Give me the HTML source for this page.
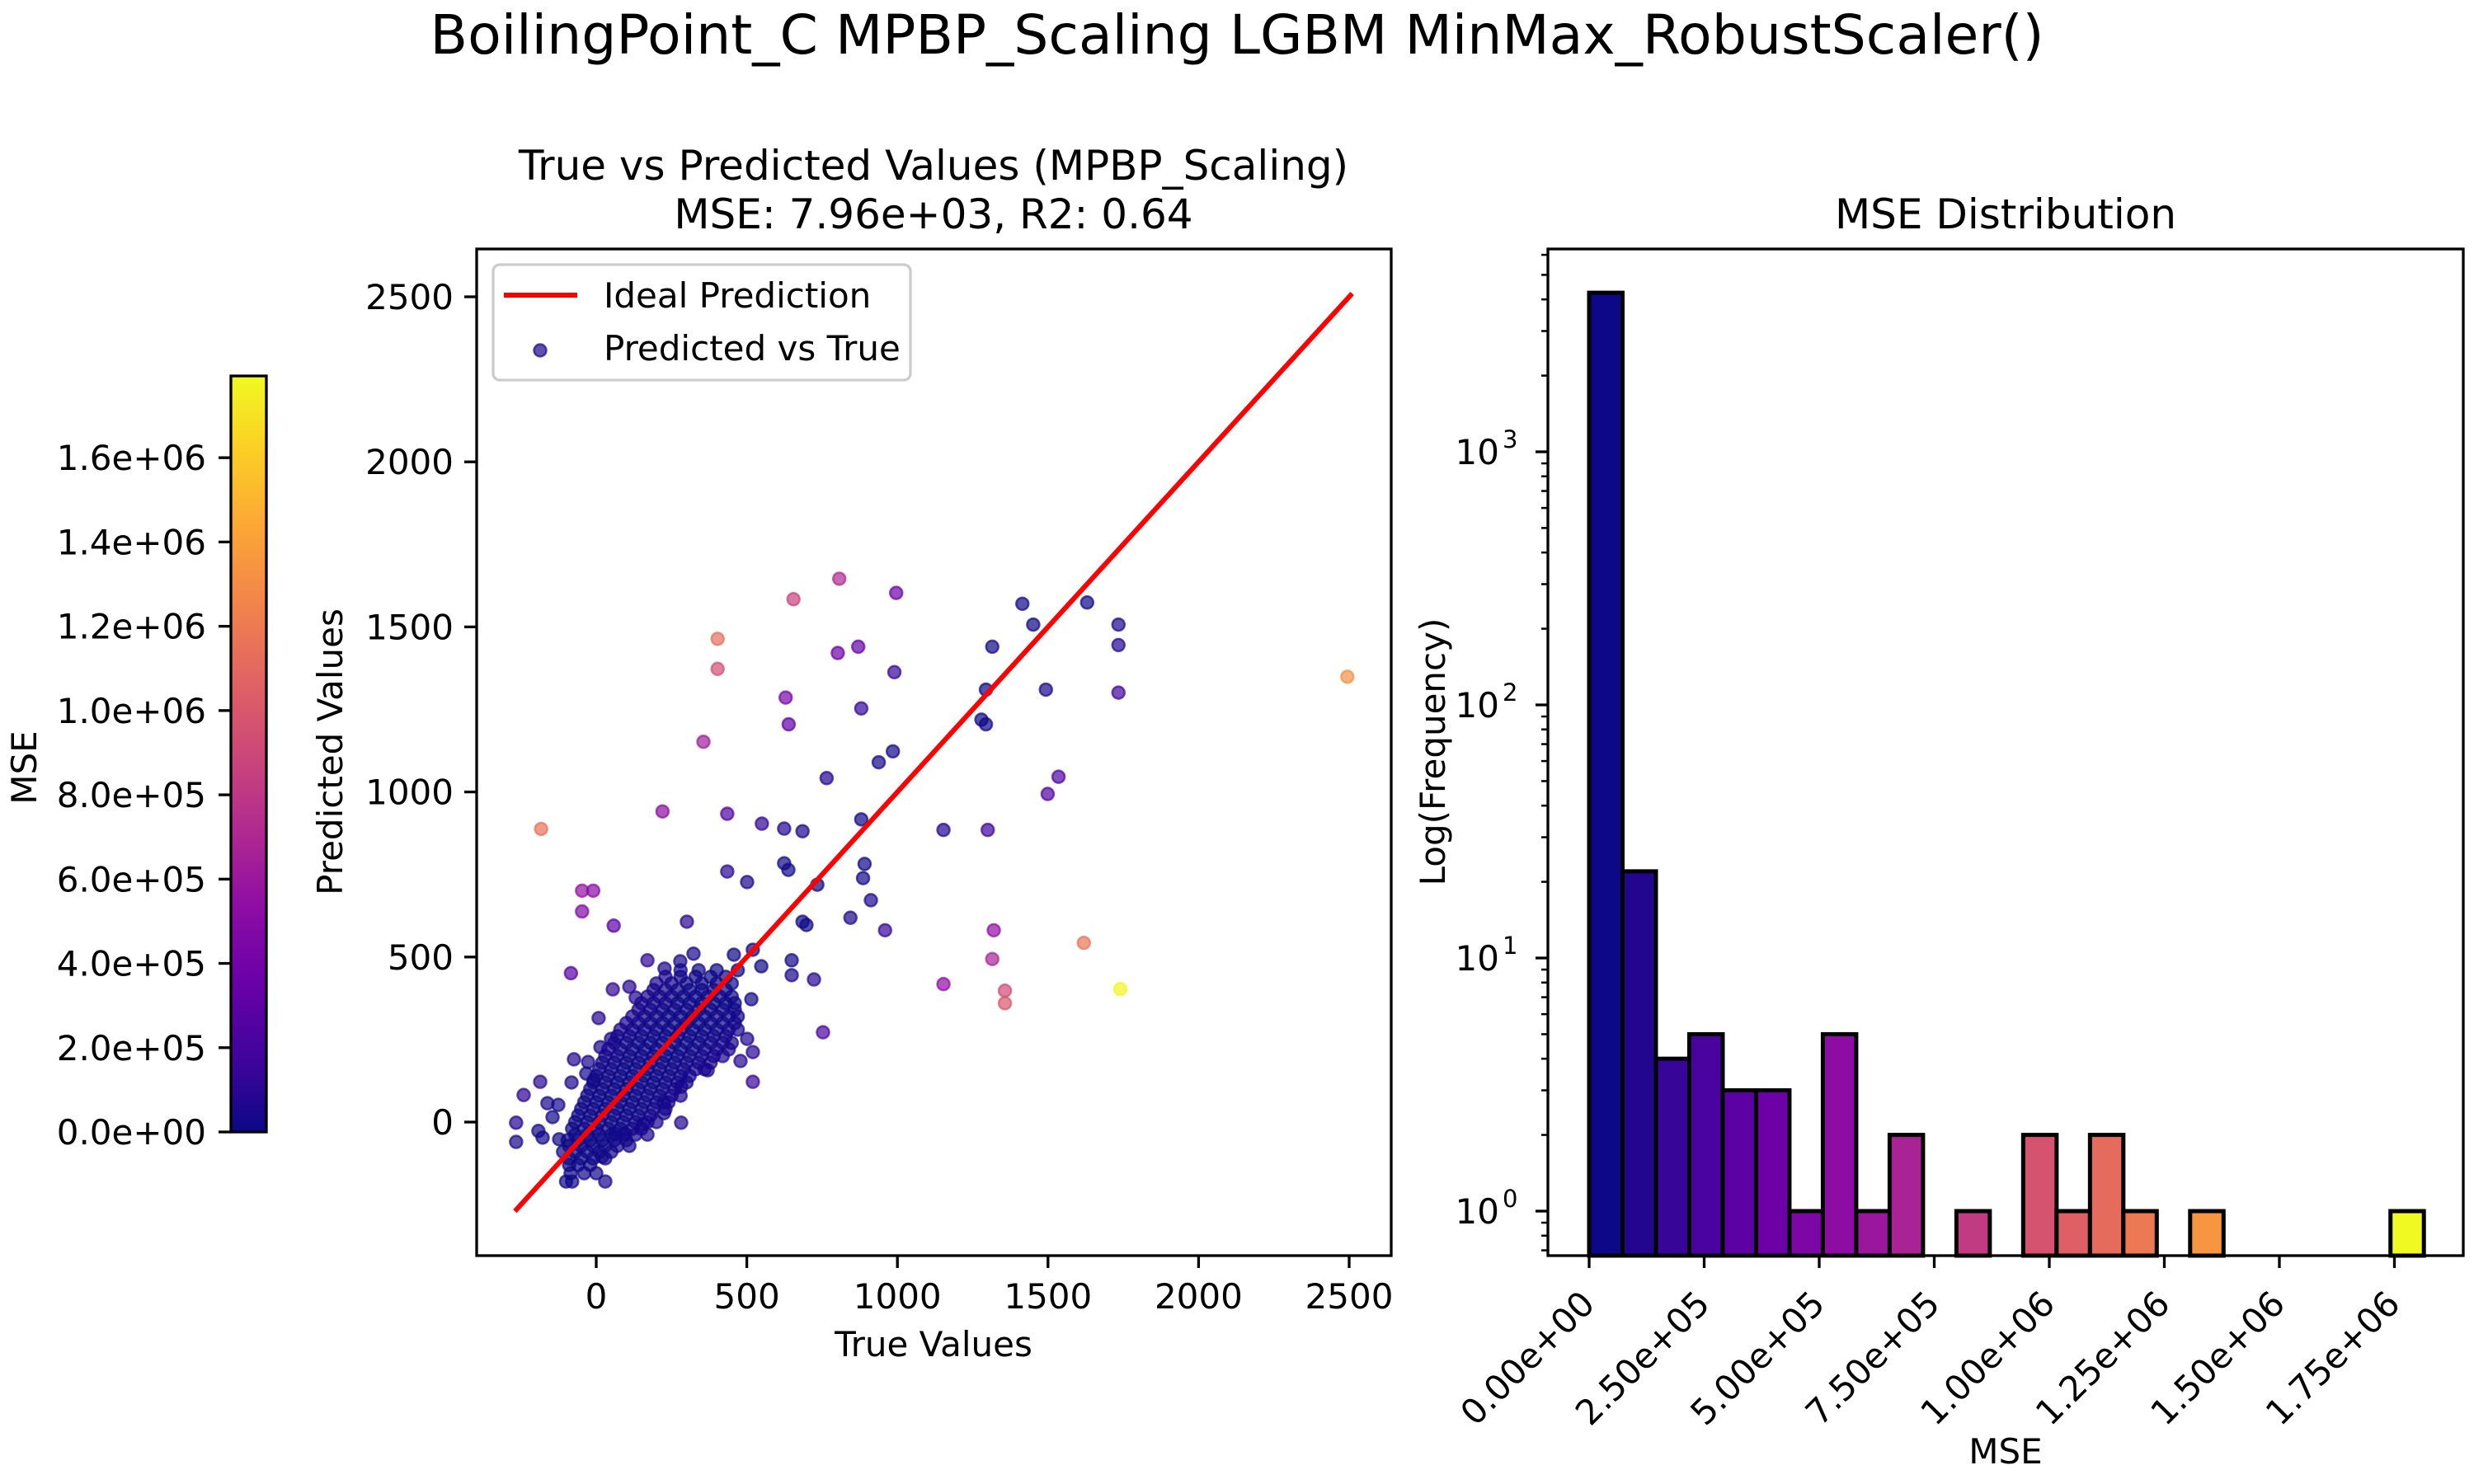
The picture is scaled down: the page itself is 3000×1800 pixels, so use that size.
<!DOCTYPE html>
<html><head><meta charset="utf-8"><style>
html,body{margin:0;padding:0;background:#fff;}
svg{display:block;font-family:"DejaVu Sans","Liberation Sans",sans-serif;}
</style></head><body>
<svg id="fig" xmlns="http://www.w3.org/2000/svg" width="3000" height="1800" viewBox="0 0 3000 1800">
<defs>
<linearGradient id="plasma" x1="0" y1="1" x2="0" y2="0">
<stop offset="0" stop-color="#0d0887"/><stop offset="0.1" stop-color="#41049d"/><stop offset="0.2" stop-color="#6a00a8"/><stop offset="0.3" stop-color="#8f0da4"/><stop offset="0.4" stop-color="#b12a90"/><stop offset="0.5" stop-color="#cc4778"/><stop offset="0.6" stop-color="#e16462"/><stop offset="0.7" stop-color="#f2844b"/><stop offset="0.8" stop-color="#fca636"/><stop offset="0.9" stop-color="#fcce25"/><stop offset="1" stop-color="#f0f921"/>
</linearGradient>
<clipPath id="scClip"><rect x="578" y="302" width="1109" height="1221"/></clipPath>
</defs>
<text x="1500" y="65" font-size="66" text-anchor="middle" textLength="1957" lengthAdjust="spacingAndGlyphs">BoilingPoint_C MPBP_Scaling LGBM MinMax_RobustScaler()</text>
<text x="1132" y="218" font-size="50" text-anchor="middle">True vs Predicted Values (MPBP_Scaling)</text>
<text x="1132" y="277" font-size="50" text-anchor="middle">MSE: 7.96e+03, R2: 0.64</text>
<text x="2432" y="277" font-size="50" text-anchor="middle">MSE Distribution</text>
<g id="cbar"></g>
<g id="scatter"></g>
<g id="hist"></g>
</svg>
<script>
// ---- scatter data (true, predicted) ----
const trueVals = [
-183,-47,-10,-47,58,-84,220,403,403,356,655,807,870,880,802,629,639,996,990,985,938,765,880,844,891,886,912,959,
1415,1451,1630,1734,1734,1315,1294,1493,1734,1279,1294,1535,1499,1300,1153,1320,1315,1357,1357,1153,1619,1740,2494,
-241,-266,-266,-186,-162,-126,-192,-178,-145,-123,-82,-74,-27,-33,-8,8,14,49,55,110,131,170,279,323,227,457,520,548,515,501,520,479,520,370,282,225,225,282,156,96,63,19,649,649,723,753,685,698,734,501,435,624,638,550,624,685,301,435,
-100,-80,30,-90,-60,-20,-110,-70,-30,10,50,-95,-60,-20,20,60,100,
-80,-40,0,40,80,120,150,-60,-20,20,60,100,140,180,-40,0,40,80,120,160,200,240,
-20,20,60,100,140,180,220,260,0,40,80,120,160,200,240,280,310,
20,60,100,140,180,220,260,300,340,380,40,80,120,160,200,240,280,320,360,400,440,
70,110,150,190,230,270,310,350,390,430,100,140,180,220,260,300,340,380,420,460,
140,180,220,260,300,340,380,420,460,170,210,250,290,330,370,410,450,200,250,300,350,400,450,280,340,400,470,
-85,-40,0,
-90,-50,-10,30,
-90,-50,-10,30,70,110,
-70,-30,10,50,90,130,170,
-70,-30,10,50,90,130,170,200,
-50,-10,30,70,110,150,190,230,
-30,10,50,90,130,170,210,250,280,
-10,30,70,110,150,190,230,270,300,
10,50,90,130,170,210,250,290,330,360,
30,70,110,150,190,230,270,310,350,390,420,
60,100,140,180,220,260,300,340,380,420,450,
80,120,160,200,240,280,320,360,400,440,470,
120,160,200,240,280,320,360,400,440,470,
150,190,230,270,310,350,390,430,460,
190,230,270,310,350,390,430,
230,280,330,380,430];
const predVals = [
888,701,701,638,595,451,941,1464,1373,1152,1584,1646,1440,1253,1421,1286,1205,1603,1363,1123,1090,1042,917,619,782,739,672,581,
1570,1507,1574,1507,1445,1440,1310,1310,1301,1219,1205,1046,994,885,885,581,494,398,360,418,543,403,1349,
82,-2,-60,122,57,52,-27,-47,15,-52,120,190,182,147,127,315,227,252,402,410,377,490,487,510,465,507,522,472,372,252,212,185,122,157,107,60,27,-2,-5,-35,-35,-105,490,445,432,272,607,597,719,727,759,784,764,904,889,881,607,934,
-180,-180,-180,-130,-130,-130,-90,-90,-90,-90,-90,-55,-55,-55,-55,-55,-55,
-20,-20,-20,-20,-20,-20,-20,20,20,20,20,20,20,20,60,60,60,60,60,60,60,60,
100,100,100,100,100,100,100,100,140,140,140,140,140,140,140,140,140,
180,180,180,180,180,180,180,180,180,180,220,220,220,220,220,220,220,220,220,220,220,
260,260,260,260,260,260,260,260,260,260,300,300,300,300,300,300,300,300,300,300,
340,340,340,340,340,340,340,340,340,380,380,380,380,380,380,380,380,420,420,420,420,420,420,460,460,460,460,
-155,-155,-155,
-110,-110,-110,-110,
-72,-72,-72,-72,-72,-72,
-38,-38,-38,-38,-38,-38,-38,
0,0,0,0,0,0,0,0,
40,40,40,40,40,40,40,40,
80,80,80,80,80,80,80,80,80,
120,120,120,120,120,120,120,120,120,
160,160,160,160,160,160,160,160,160,160,
200,200,200,200,200,200,200,200,200,200,200,
240,240,240,240,240,240,240,240,240,240,240,
280,280,280,280,280,280,280,280,280,280,280,
320,320,320,320,320,320,320,320,320,320,
360,360,360,360,360,360,360,360,360,
400,400,400,400,400,400,400,
440,440,440,440,440];
const scXTicks = [0,500,1000,1500,2000,2500];
const scYTicks = [0,500,1000,1500,2000,2500];
const idealRange = [-270, 2510];
// ---- histogram data ----
const histCounts = [4250,22,4,5,3,3,1,5,1,2,0,1,0,2,1,2,1,0,1,0,0,0,0,0,1];
const histMax = 1.814e6;
const histXTicks = [0,2.5e5,5e5,7.5e5,1e6,1.25e6,1.5e6,1.75e6];
const histXLabels = ["0.00e+00","2.50e+05","5.00e+05","7.50e+05","1.00e+06","1.25e+06","1.50e+06","1.75e+06"];
const histYDecades = [0,1,2,3];
// ---- colorbar ----
const cbarMax = 1.794e6;
const cbarTicks = [0,2e5,4e5,6e5,8e5,1e6,1.2e6,1.4e6,1.6e6];
const cbarLabels = ["0.0e+00","2.0e+05","4.0e+05","6.0e+05","8.0e+05","1.0e+06","1.2e+06","1.4e+06","1.6e+06"];

const NS = "http://www.w3.org/2000/svg";
function mk(parent, tag, attrs, text){ const e=document.createElementNS(NS,tag); for(const k in attrs) e.setAttribute(k,attrs[k]); if(text!==undefined) e.textContent=text; parent.appendChild(e); return e; }
const stops=[[13,8,135],[65,4,157],[106,0,168],[143,13,164],[177,42,144],[204,71,120],[225,100,98],[242,132,75],[252,166,54],[252,206,37],[240,249,33]];
function plasma(t){ t=Math.max(0,Math.min(1,t)); const f=t*10, i=Math.min(9,Math.floor(f)), r=f-i; const a=stops[i],b=stops[i+1]; return `rgb(${Math.round(a[0]+(b[0]-a[0])*r)},${Math.round(a[1]+(b[1]-a[1])*r)},${Math.round(a[2]+(b[2]-a[2])*r)})`; }

// ---- scatter ----
const sx = v => 723 + v*0.3652;
const sy = v => 1361 - v*0.4004;
const sc = document.getElementById('scatter');
const pts = mk(sc,'g',{'clip-path':'url(#scClip)'});


const n = Math.min(trueVals.length, predVals.length);
for(let i=0;i<n;i++){
  const m=(trueVals[i]-predVals[i])**2;
  const col=plasma(m/cbarMax);
  const c=mk(pts,'circle',{cx:sx(trueVals[i]),cy:sy(predVals[i]),r:7.5,fill:col,'fill-opacity':0.7,stroke:col,'stroke-opacity':0.7,'stroke-width':2.5});
  
  
}
const ideal=mk(sc,'line',{x1:sx(idealRange[0]),y1:sy(idealRange[0]),x2:sx(idealRange[1]),y2:sy(idealRange[1]),stroke:'#ff0000','stroke-width':6});


const frame=mk(sc,'rect',{x:578,y:302,width:1109,height:1221,fill:'none',stroke:'#000','stroke-width':3.3});


scXTicks.forEach(v=>{
  const x=sx(v);
  mk(sc,'line',{x1:x,y1:1523,x2:x,y2:1538,stroke:'#000','stroke-width':3.3});
  const t=mk(sc,'text',{x:x,y:1587,'font-size':42,'text-anchor':'middle'},String(v));
  
  
});
scYTicks.forEach(v=>{
  const y=sy(v);
  mk(sc,'line',{x1:563,y1:y,x2:578,y2:y,stroke:'#000','stroke-width':3.3});
  const t=mk(sc,'text',{x:550,y:y+15,'font-size':42,'text-anchor':'end'},String(v));
  
  
});
const xt=mk(sc,'text',{x:1132,y:1645,'font-size':42,'text-anchor':'middle'},'True Values');


const yt=mk(sc,'text',{x:0,y:0,'font-size':42,'text-anchor':'middle',transform:'translate(415,912) rotate(-90)'},'Predicted Values');


// legend
const lg=mk(sc,'g',{});


mk(lg,'rect',{x:598,y:321,width:506,height:140,rx:8,fill:'#fff','fill-opacity':0.8,stroke:'#cccccc','stroke-width':3.3});
mk(lg,'line',{x1:611,y1:358,x2:700,y2:358,stroke:'#ff0000','stroke-width':6});
mk(lg,'circle',{cx:655,cy:425,r:7.5,fill:plasma(0.03),'fill-opacity':0.7,stroke:plasma(0.03),'stroke-opacity':0.7,'stroke-width':2.5});
const l1=mk(lg,'text',{x:732,y:373,'font-size':42},'Ideal Prediction');


const l2=mk(lg,'text',{x:732,y:437,'font-size':42},'Predicted vs True');



// ---- colorbar ----
const cb=document.getElementById('cbar');
const cy = v => 1373 - v/cbarMax*917;
const cbr=mk(cb,'rect',{x:280,y:456,width:43,height:917,fill:'url(#plasma)',stroke:'#000','stroke-width':3.3});


cbarTicks.forEach((v,i)=>{
  const y=cy(v);
  mk(cb,'line',{x1:265,y1:y,x2:280,y2:y,stroke:'#000','stroke-width':3.3});
  const t=mk(cb,'text',{x:250,y:y+15,'font-size':42,'text-anchor':'end'},cbarLabels[i]);
  
  
});
const cbl=mk(cb,'text',{x:0,y:0,'font-size':42,'text-anchor':'middle',transform:'translate(44,931) rotate(-90)'},'MSE');



// ---- histogram ----
const hg=document.getElementById('hist');
const hx = v => 1927 + v*558e-6;
const hy = c => 1469 - Math.log10(c)*307;
const bw = histMax/histCounts.length;
histCounts.forEach((c,i)=>{
  if(c<=0) return;
  const x0=hx(i*bw), x1=hx((i+1)*bw), y=hy(c);
  const r=mk(hg,'rect',{x:x0,y:y,width:x1-x0,height:1523-y,fill:plasma(i/(histCounts.length-1)),stroke:'#000','stroke-width':5});
  
  
});
mk(hg,'rect',{x:1877,y:302,width:1110,height:1221,fill:'none',stroke:'#000','stroke-width':3.3});
histXTicks.forEach((v,i)=>{
  const x=hx(v);
  mk(hg,'line',{x1:x,y1:1523,x2:x,y2:1538,stroke:'#000','stroke-width':3.3});
  const t=mk(hg,'text',{x:0,y:0,'font-size':42,'text-anchor':'end',transform:`translate(${x+9},${1584}) rotate(-45)`},histXLabels[i]);
  
  
});
histYDecades.forEach(d=>{
  const y=hy(10**d);
  mk(hg,'line',{x1:1862,y1:y,x2:1877,y2:y,stroke:'#000','stroke-width':3.3});
  const t=mk(hg,'text',{x:1818,y:y+15,'font-size':42,'text-anchor':'end'},'10');
  
  
  mk(hg,'text',{x:1822,y:y-5,'font-size':29,'text-anchor':'start'},String(d));
});
for(let d=-1; d<=3; d++){
  for(let m=2;m<=9;m++){
    const y=hy(m*10**d);
    if(y<302||y>1523) continue;
    mk(hg,'line',{x1:1869,y1:y,x2:1877,y2:y,stroke:'#000','stroke-width':2.5});
  }
}
const hxl=mk(hg,'text',{x:2432,y:1775,'font-size':42,'text-anchor':'middle'},'MSE');


const hyl=mk(hg,'text',{x:0,y:0,'font-size':42,'text-anchor':'middle',transform:'translate(1752,912) rotate(-90)'},'Log(Frequency)');


</script>
</body></html>
